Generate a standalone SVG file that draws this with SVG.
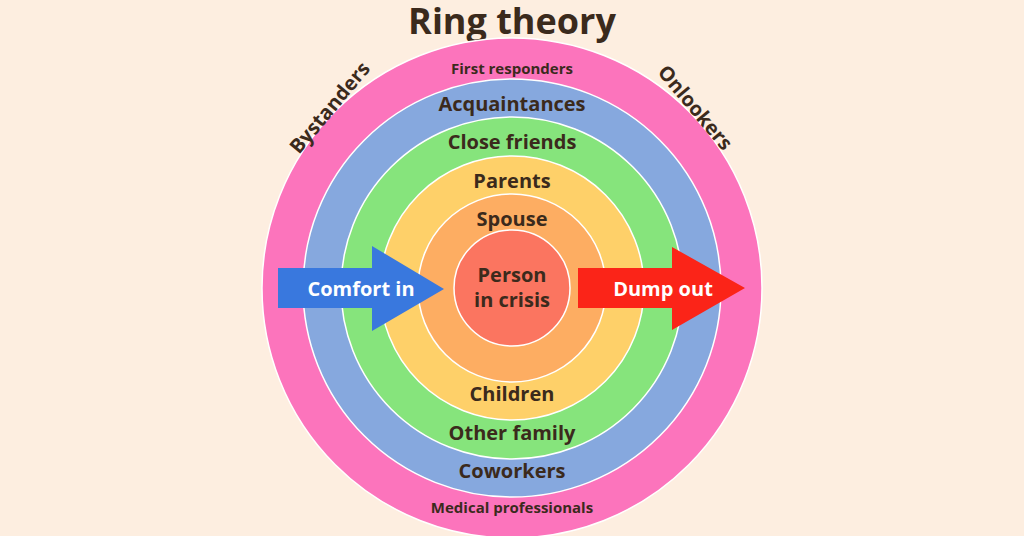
<svg xmlns="http://www.w3.org/2000/svg" width="1024" height="536" viewBox="0 0 1024 536">
<style>
text{font-family:"Open Sans","Noto Sans",sans-serif;font-weight:700;fill:#3b2a1c;text-anchor:middle}
.r{stroke:#fff;stroke-width:1.5}
.l{font-size:20px}
.s{font-size:15px}
.w{fill:#fff;font-size:20px}
</style>
<rect width="1024" height="536" fill="#fdeee0"/>
<text x="512" y="34" style="font-size:36px">Ring theory</text>
<g id="ring-outer"><circle class="r" cx="512" cy="288" r="250" fill="#fc74bc"/></g>
<g id="ring-blue"><circle class="r" cx="512" cy="288" r="209" fill="#86a8de"/></g>
<g id="ring-green"><circle class="r" cx="512" cy="288" r="171" fill="#86e47c"/></g>
<g id="ring-yellow"><circle class="r" cx="512" cy="288" r="132" fill="#fed069"/></g>
<g id="ring-orange"><circle class="r" cx="512" cy="288" r="94" fill="#fdad62"/></g>
<g id="center"><circle class="r" cx="512" cy="288" r="58" fill="#fb7560"/>
<text class="l" x="512" y="282">Person</text><text class="l" x="512" y="307">in crisis</text></g>
<text class="s" x="512" y="74">First responders</text>
<text class="l" x="512" y="111">Acquaintances</text>
<text class="l" x="512" y="149">Close friends</text>
<text class="l" x="512" y="188">Parents</text>
<text class="l" x="512" y="226">Spouse</text>
<text class="l" x="512" y="401">Children</text>
<text class="l" x="512" y="440">Other family</text>
<text class="l" x="512" y="478">Coworkers</text>
<text class="s" x="512" y="513">Medical professionals</text>
<text class="l" transform="translate(335,112) rotate(-50)">Bystanders</text>
<text class="l" transform="translate(690,112) rotate(50)">Onlookers</text>
<g id="connectors">
<g id="comfort-in"><polygon points="278,268 372,268 372,246 444,289 372,331 372,308 278,308" fill="#3978de"/><text class="w" x="361" y="296">Comfort in</text></g>
<g id="dump-out"><polygon points="578,268 672,268 672,247 745,288 672,330 672,308 578,308" fill="#fb2418"/><text class="w" x="663" y="296">Dump out</text></g>
</g>
</svg>
